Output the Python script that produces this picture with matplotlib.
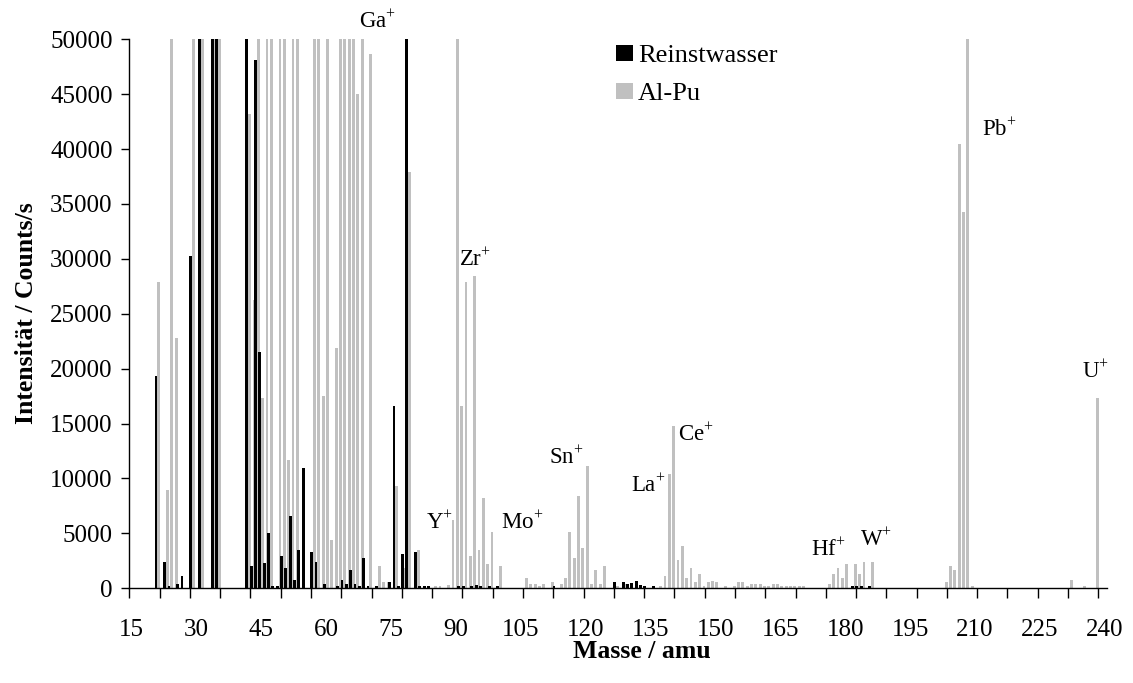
import matplotlib
matplotlib.use("Agg")
import matplotlib.pyplot as plt
from matplotlib.patches import Patch
from matplotlib.ticker import FixedLocator, NullFormatter

plt.rcParams['font.family'] = ['Liberation Serif', 'DejaVu Serif']
plt.rcParams['mathtext.fontset'] = 'custom'
plt.rcParams['mathtext.rm'] = 'Liberation Serif'

FULL = 60000  # off-scale (clipped at 50000)

# Reinstwasser (black)
masses_rw = [21, 23, 24, 26, 27, 29, 31, 34, 35, 42, 43, 44, 45, 46, 47, 48, 49,
             50, 51, 52, 53, 54, 55, 57, 58, 60, 63, 64, 65, 66, 67, 68, 69, 70,
             72, 75, 76, 77, 78, 79, 81, 82, 83, 84, 91, 92, 94, 95, 96, 98, 100,
             113, 127, 129, 130, 131, 132, 133, 134, 136, 182, 183, 184, 186]
counts_rw = [19370, 2400, 200, 400, 1100, 30300, FULL, FULL, FULL, FULL, 2030, 48100,
             21500, 2300, 5000, 200, 200,
             2940, 1850, 6590, 760, 3490, 10930, 3280, 2400, 390, 200, 760, 390, 1660,
             390, 200, 2770, 200,
             200, 570, 16630, 200, 3130, FULL, 3310, 200, 200, 200, 200, 200, 200, 300,
             200, 200, 200,
             200, 570, 570, 400, 500, 700, 300, 200, 200, 200, 250, 250, 250]

# Al-Pu (grey)
masses_alpu = [21, 23, 24, 25, 29, 31, 34, 35, 42, 43, 44, 45, 46, 47, 49, 50, 51, 52,
               53, 57, 58, 59, 60, 61, 62, 63, 64, 65, 66, 67, 68, 70, 72, 73, 74, 76,
               78, 79, 81, 85, 86, 88, 89, 90, 91, 92, 93, 94, 95, 96, 97, 98, 100,
               106, 107, 108, 109, 110, 112, 114, 115, 116, 117, 118, 119, 120, 121,
               122, 123, 124, 127, 129, 137, 138, 139, 140, 141, 142, 143, 144, 145,
               146, 147, 148, 149, 150, 152, 154, 155, 156, 157, 158, 159, 160, 161,
               162, 163, 164, 165, 166, 167, 168, 169, 170, 176, 177, 178, 179, 180,
               182, 183, 184, 186, 203, 204, 205, 206, 207, 208, 209, 232, 235, 238]
counts_alpu = [27900, 8950, FULL, 22800, FULL, FULL, FULL, FULL, 43200, 26300, FULL,
               17300, FULL, FULL, FULL, FULL, 11700, FULL,
               FULL, FULL, FULL, 17520, FULL, 4400, 21900, FULL, FULL, FULL, FULL, 45000,
               FULL, 48700, 2030, 570, 570, 9330,
               1850, 37900, 3490, 200, 200, 300, 6220, FULL, 16630, 27900, 2940, 28450,
               3490, 8230, 2220, 5130, 2030,
               940, 400, 400, 200, 400, 570, 400, 940, 5130, 2770, 8400, 3680, 11150, 400,
               1660, 400, 2030, 200, 400, 200, 1140, 10420, 14790, 2580, 3870, 940, 1850,
               570,
               1300, 200, 570, 700, 570, 200, 200, 570, 570, 200, 400, 400, 400, 200,
               200, 400, 400, 200, 200, 200, 200, 200, 200, 400, 1300, 1850, 940, 2220,
               2220, 1300, 2400, 2400, 570, 2000, 1700, 40500, 34300, FULL, 200, 760, 200,
               17350]

ion_labels = ["Ga$^{+}$", "Zr$^{+}$", "Y$^{+}$", "Mo$^{+}$", "Sn$^{+}$", "La$^{+}$",
              "Ce$^{+}$", "Hf$^{+}$", "W$^{+}$", "Pb$^{+}$", "U$^{+}$"]
ion_mass = [71.9, 94.5, 86.3, 105.4, 115.5, 134.5, 145.4, 176.0, 187.1, 215.5, 237.9]
ion_count = [51600, 29900, 5980, 5980, 11950, 9400, 14000, 3500, 4400, 41770, 19700]

W, H = 1133, 683
fig = plt.figure(figsize=(W / 100, H / 100), dpi=100)
ax = fig.add_axes([129.3 / W, 1 - 588.3 / H, (1107 - 129.3) / W, (588.3 - 39.3) / H])

bw = 0.66
ax.bar([m - 0.33 for m in masses_rw], counts_rw, width=bw, color='black',
       linewidth=0, antialiased=False, zorder=3, label='Reinstwasser')
ax.bar([m + 0.33 for m in masses_alpu], counts_alpu, width=bw, color='#C0C0C0',
       linewidth=0, antialiased=False, zorder=2, label='Al-Pu')

ax.set_xlim(14.5, 240.5)
ax.set_ylim(0, 50000)

for s in ['top', 'right']:
    ax.spines[s].set_visible(False)
for s in ['left', 'bottom']:
    ax.spines[s].set_linewidth(1.0)
    ax.spines[s].set_color('black')
    ax.spines[s].set_zorder(4)

ax.set_yticks(range(0, 50001, 5000))
ax.tick_params(axis='y', direction='out', length=6, width=1, labelsize=18, pad=6)

xt = list(range(15, 241, 15))
ax.set_xticks(xt)
ax.set_xticklabels([str(v) for v in xt])
ax.tick_params(axis='x', which='major', length=0, labelsize=18, pad=22)
ax.xaxis.set_minor_locator(FixedLocator([14.5 + 7 * k for k in range(33)]))
ax.xaxis.set_minor_formatter(NullFormatter())
ax.tick_params(axis='x', which='minor', direction='out', length=7, width=1)

for t, m, c in zip(ion_labels, ion_mass, ion_count):
    ax.text(m, c, t, fontsize=16.5, ha='center', va='center', clip_on=False)

fig.text(27 / W, 1 - 313 / H, 'Intensität / Counts/s', rotation=90, fontsize=18.5,
         fontweight='bold', ha='center', va='center')
fig.text(642 / W, 1 - 652 / H, 'Masse / amu', fontsize=18.5, fontweight='bold',
         ha='center', va='center')

handles = [Patch(facecolor='black', edgecolor='none'),
           Patch(facecolor='#C0C0C0', edgecolor='none')]
fig.legend(handles, ['Reinstwasser', 'Al-Pu'], loc='upper left',
           bbox_to_anchor=(616 / W, 1 - 45 / H), frameon=False, fontsize=19,
           handlelength=0.65, handleheight=0.57, handletextpad=0.19,
           labelspacing=0.58, borderpad=0, borderaxespad=0)

fig.savefig('out.png', dpi=100)
